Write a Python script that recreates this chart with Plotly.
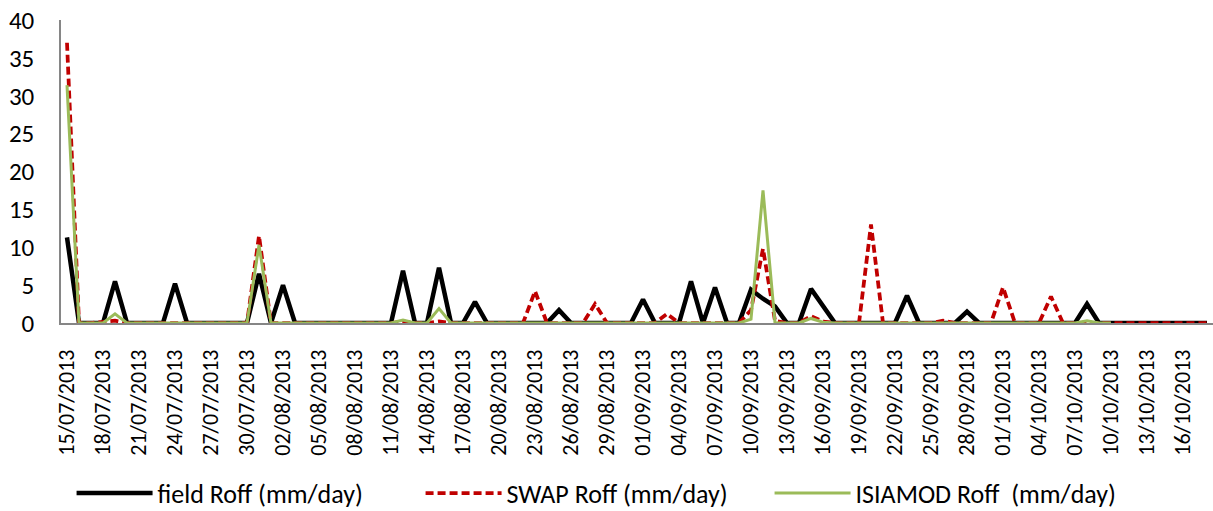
import plotly.graph_objects as go
import pandas as pd

# Categories: daily dates 15/07/2013 .. 18/10/2013
dates = [d.strftime("%d/%m/%Y") for d in pd.date_range("2013-07-15", "2013-10-18", freq="D")]

field_roff = [
    11.3, 0, 0, 0, 5.5, 0, 0, 0, 0, 5.2,      # 15/07 - 24/07
    0, 0, 0, 0, 0, 0, 6.5, 0, 5.0, 0,         # 25/07 - 03/08
    0, 0, 0, 0, 0, 0, 0, 0, 6.9, 0,           # 04/08 - 13/08
    0, 7.3, 0, 0, 2.8, 0, 0, 0, 0, 0,         # 14/08 - 23/08
    0, 1.7, 0, 0, 0, 0, 0, 0, 3.1, 0,         # 24/08 - 02/09
    0, 0, 5.5, 0, 4.7, 0, 0, 4.4, 3.2, 2.2,   # 03/09 - 12/09
    0, 0, 4.5, 2.2, 0, 0, 0, 0, 0, 0,         # 13/09 - 22/09
    3.6, 0, 0, 0, 0, 1.5, 0, 0, 0, 0,         # 23/09 - 02/10
    0, 0, 0, 0, 0, 2.5, 0, 0, 0, 0,           # 03/10 - 12/10
    0, 0, 0, 0, 0, 0,                         # 13/10 - 18/10
]

swap_roff = [
    37.0, 0, 0, 0.1, 0.3, 0, 0, 0, 0, 0,
    0, 0, 0, 0, 0, 0, 11.5, 0, 0, 0,
    0, 0, 0, 0, 0, 0, 0, 0, 0.2, 0,
    0, 0.2, 0, 0, 0, 0, 0, 0, 0, 4.2,
    0, 0, 0, 0, 2.5, 0, 0, 0, 0, 0,
    1.2, 0, 0, 0, 0, 0, 0, 1.7, 9.8, 0.3,
    0, 0, 0.9, 0.2, 0, 0, 0, 13.0, 0, 0,
    0, 0, 0, 0.3, 0, 0, 0, 0, 4.7, 0,
    0, 0, 3.5, 0, 0, 0, 0, 0, 0, 0,
    0, 0, 0, 0, 0, 0,
]

isiamod_roff = [
    31.4, 0, 0, 0, 1.2, 0, 0, 0, 0, 0,
    0, 0, 0, 0, 0, 0, 10.3, 0, 0, 0,
    0, 0, 0, 0, 0, 0, 0, 0, 0.4, 0,
    0, 1.9, 0, 0, 0, 0, 0, 0, 0, 0,
    0, 0, 0, 0, 0, 0, 0, 0, 0, 0,
    0, 0, 0, 0, 0, 0, 0, 0.5, 17.5, 0,
    0, 0, 0.6, 0.1, 0, 0, 0, 0, 0, 0,
    0, 0, 0, 0, 0, 0, 0, 0, 0, 0,
    0, 0, 0, 0, 0, 0.3, 0, 0, None, None,
    None, None, None, None, None, None,
]

tick_labels = dates[::3]

FONT = "Carlito, Calibri, Lato, sans-serif"

fig = go.Figure()
fig.add_trace(go.Scatter(x=dates, y=field_roff, mode="lines", name="field Roff (mm/day)",
                         line=dict(color="#000000", width=4.5)))
fig.add_trace(go.Scatter(x=dates, y=swap_roff, mode="lines", name="SWAP Roff (mm/day)",
                         line=dict(color="#C00000", width=3.75, dash="8px,4px")))
fig.add_trace(go.Scatter(x=dates, y=isiamod_roff, mode="lines", name="ISIAMOD Roff  (mm/day)",
                         line=dict(color="#9BBB59", width=3)))

fig.update_layout(
    width=1213, height=511,
    margin=dict(l=61, r=0, t=20, b=188, autoexpand=False),
    paper_bgcolor="white", plot_bgcolor="white",
    font=dict(family=FONT, color="#000000"),
    showlegend=True,
    legend=dict(orientation="h", xref="container", yref="container",
                x=0.059, xanchor="left", y=0.035, yanchor="middle",
                font=dict(size=26, family=FONT), itemwidth=76, entrywidth=258,
                traceorder="normal", bgcolor="rgba(0,0,0,0)"),
)
fig.update_xaxes(
    type="category", range=[-0.5, 95.5], automargin=False,
    tickmode="array", tickvals=tick_labels, ticktext=tick_labels,
    tickangle=-90, tickfont=dict(size=22, family=FONT),
    showgrid=False, zeroline=False,
    showline=True, linecolor="#868686", linewidth=1.5,
    ticks="", ticklabelstandoff=16,
)
fig.update_yaxes(
    range=[0, 40], tickvals=[0, 5, 10, 15, 20, 25, 30, 35, 40], automargin=False,
    tickfont=dict(size=25, family=FONT),
    showgrid=False, zeroline=False,
    showline=True, linecolor="#868686", linewidth=1.5,
    ticks="", ticklabelstandoff=20,
)

fig.write_html("out.html", config={"displayModeBar": False},
               post_script="document.body.style.margin='0';document.body.style.overflow='hidden';")
